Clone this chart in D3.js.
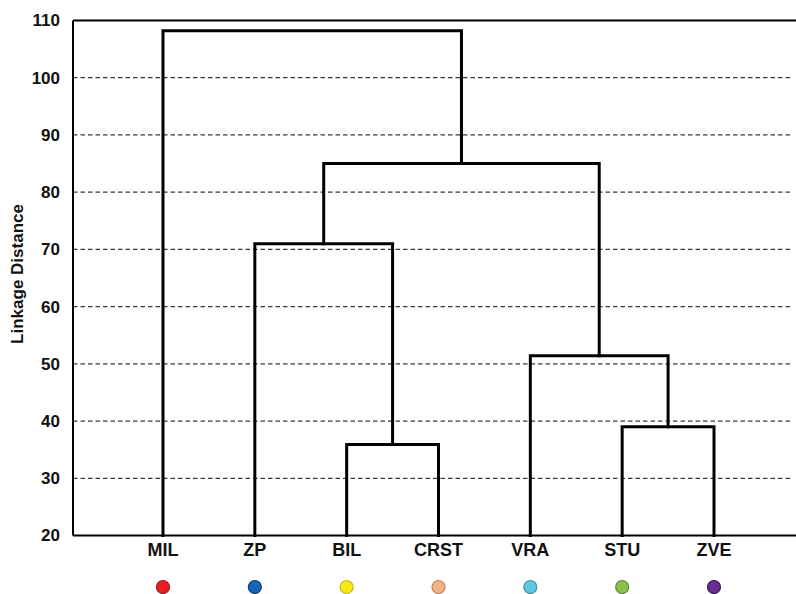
<!DOCTYPE html>
<html>
<head>
<meta charset="utf-8">
<script src="https://cdn.jsdelivr.net/npm/d3@7"></script>
<style>
  html, body { margin: 0; padding: 0; background: #fff; }
  svg { display: block; font-family: "Liberation Sans", Arial, sans-serif; }
</style>
</head>
<body>
<svg id="chart" width="796" height="594"></svg>
<script>
// Leaves of the dendrogram, left to right
const leaves = ["MIL", "ZP", "BIL", "CRST", "VRA", "STU", "ZVE"];
const leafColors = ["#e81e25", "#1565b8", "#f7e816", "#f4b183", "#5ec8e2", "#8cc04b", "#6a2c91"];
const leafStroke = ["#a0161b", "#0d3f78", "#c9b80e", "#c9805a", "#3a93a8", "#5f8a2e", "#3e1458"];

// Linkage table: cluster n+i joins mergeLeft[i] and mergeRight[i] at mergeHeight[i]
const mergeLeft   = [2, 5, 4, 1, 10, 0];
const mergeRight  = [3, 6, 8, 7, 9, 11];
const mergeHeight = [35.9, 39.0, 51.4, 71.0, 85.0, 108.2];

// Axis
const yTicks = [20, 30, 40, 50, 60, 70, 80, 90, 100, 110];
const yTitle = "Linkage Distance";

const W = 796, H = 594;
const frameLeft = 73;
const svg = d3.select("#chart");

const x = d3.scalePoint().domain(leaves).range([163, 714]);
const y = d3.scaleLinear().domain([20, 110]).range([535.5, 20.5]);

// Dashed gridlines
svg.append("g")
  .selectAll("line")
  .data(yTicks.filter(t => t > 20 && t < 110))
  .join("line")
  .attr("x1", frameLeft).attr("x2", 793)
  .attr("y1", d => y(d)).attr("y2", d => y(d))
  .attr("stroke", "#3a3a3a")
  .attr("stroke-width", 1.3)
  .attr("stroke-dasharray", "4.5,3");

// Y axis labels
const yAxis = d3.axisLeft(y).tickValues(yTicks).tickSize(0).tickPadding(13);
const ya = svg.append("g").attr("transform", `translate(${frameLeft},0)`).call(yAxis);
ya.select(".domain").remove();
ya.selectAll("text")
  .attr("font-family", "Liberation Sans, Arial, sans-serif")
  .attr("font-size", 17)
  .attr("font-weight", "bold")
  .attr("fill", "#111");

// Axis title
svg.append("text")
  .attr("transform", `translate(23,274) rotate(-90)`)
  .attr("text-anchor", "middle")
  .attr("font-size", 17)
  .attr("font-weight", "bold")
  .attr("fill", "#111")
  .text(yTitle);

// Frame: left, top and bottom edges
const frame = svg.append("g").attr("stroke", "#000").attr("stroke-width", 2).attr("fill", "none");
frame.append("line").attr("x1", frameLeft).attr("x2", frameLeft).attr("y1", y(110)).attr("y2", y(20));
frame.append("line").attr("x1", frameLeft).attr("x2", W).attr("y1", y(110)).attr("y2", y(110));
frame.append("line").attr("x1", frameLeft).attr("x2", W).attr("y1", y(20)).attr("y2", y(20));

// Build node positions from the linkage table
const nodeX = leaves.map(l => x(l));
const nodeH = leaves.map(() => 20);
const links = [];
mergeLeft.forEach((a, i) => {
  const b = mergeRight[i], h = mergeHeight[i];
  links.push({ x1: nodeX[a], h1: nodeH[a], x2: nodeX[b], h2: nodeH[b], h });
  nodeX.push((nodeX[a] + nodeX[b]) / 2);
  nodeH.push(h);
});

// Dendrogram branches: U-shaped connectors
svg.append("g")
  .selectAll("path")
  .data(links)
  .join("path")
  .attr("d", d => `M${d.x1},${y(d.h1)}V${y(d.h)}H${d.x2}V${y(d.h2)}`)
  .attr("fill", "none")
  .attr("stroke", "#000")
  .attr("stroke-width", 3)
  .attr("stroke-linejoin", "miter")
  .attr("stroke-linecap", "square");

// Leaf labels
svg.append("g")
  .selectAll("text")
  .data(leaves)
  .join("text")
  .attr("x", d => x(d))
  .attr("y", 556)
  .attr("text-anchor", "middle")
  .attr("font-size", 18)
  .attr("font-weight", "bold")
  .attr("fill", "#111")
  .text(d => d);

// Coloured markers under each leaf
svg.append("g")
  .selectAll("circle")
  .data(leaves)
  .join("circle")
  .attr("cx", d => x(d))
  .attr("cy", 587)
  .attr("r", 6.5)
  .attr("fill", (d, i) => leafColors[i])
  .attr("stroke", (d, i) => leafStroke[i])
  .attr("stroke-width", 1.2);
</script>
</body>
</html>
